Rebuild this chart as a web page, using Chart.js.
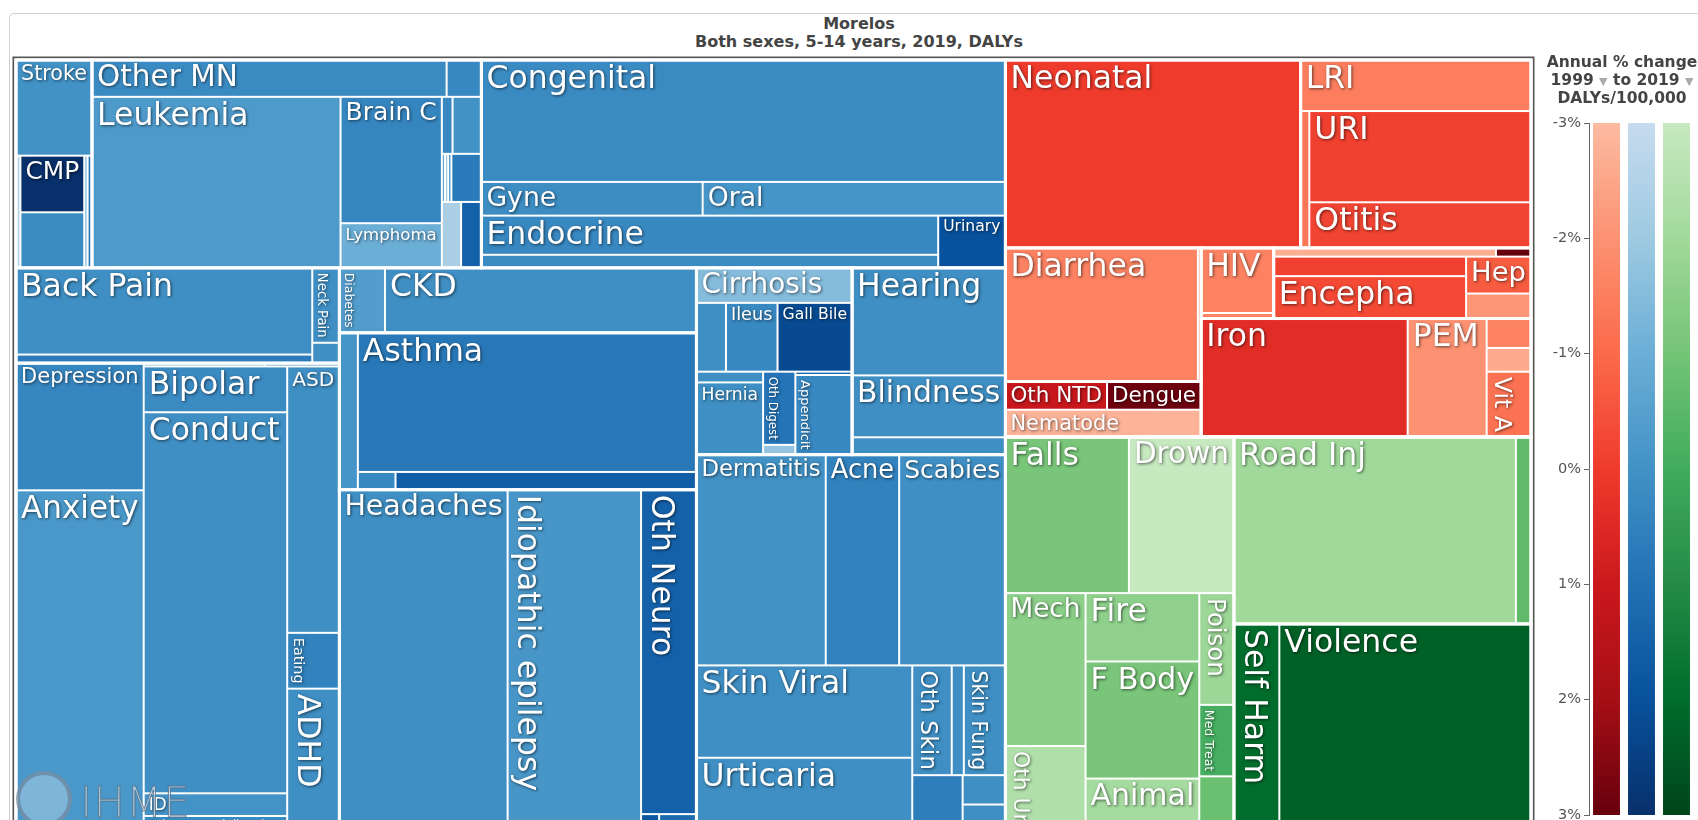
<!DOCTYPE html>
<html>
<head>
<meta charset="utf-8">
<title>Morelos, Both sexes, 5-14 years, 2019, DALYs</title>
<script src="https://cdn.jsdelivr.net/npm/chart.js@4.4.1/dist/chart.umd.min.js"></script>
<style>
  html, body { margin: 0; padding: 0; background: #fff; width: 1698px; height: 820px; overflow: hidden; }
  .card { position: absolute; left: 9px; top: 13px; width: 1800px; height: 1000px; border: 1px solid #d0d0d0; border-radius: 5px; }
  .title { position: absolute; left: 0; top: 15px; width: 1718px; text-align: center; font: bold 16px "DejaVu Sans", sans-serif; color: #444; line-height: 17.5px; }
  #treemap { position: absolute; left: 0; top: 0; }
  #colorbar { position: absolute; left: 1539px; top: 0; }
  .legend-head { position: absolute; left: 1522px; top: 54px; width: 200px; text-align: center; font: bold 15.5px "DejaVu Sans", sans-serif; color: #444; line-height: 17.5px; white-space: nowrap; }
  .caret { color: #aaa; font-size: 11px; }
  .logo { position: absolute; left: 16px; top: 771px; pointer-events: none; }
  .logo .ring { position: absolute; left: 0; top: 0; width: 48px; height: 48px; border-radius: 50%; border: 4px solid rgba(100,120,140,0.6); background: rgba(225,235,245,0.35); }
  .logo span { position: absolute; left: 64px; top: 11px; font: 200 42px "DejaVu Sans", sans-serif; line-height: 42px; color: rgba(215,228,240,0.7); -webkit-text-stroke: 1px rgba(80,100,120,0.7); letter-spacing: 1px; }
</style>
</head>
<body>
<div class="card"></div>
<div class="title">Morelos<br>Both sexes, 5-14 years, 2019, DALYs</div>
<canvas id="treemap" width="1540" height="880"></canvas>
<div class="legend-head">Annual % change<br>1999 <span class="caret">&#9660;</span> to 2019 <span class="caret">&#9660;</span><br>DALYs/100,000</div>
<canvas id="colorbar" width="159" height="840"></canvas>
<div class="logo"><div class="ring"></div><span>IHME</span></div>

<script>
const FONT = '"DejaVu Sans", Verdana, sans-serif';

// DALYs per 100,000 and annual % change 1999-2019, by cause

// non-communicable (blue)
const cardioNames  = ['Stroke', 'Rheumatic HD', 'CMP', 'Oth Cardio', 'Endocarditis', 'IHD'];
const cardioDalys  = [619, 42, 308, 302, 32, 42];
const cardioChange = [0.0, -2.5, 3.0, 0.2, -1.5, 0.8];

const neoNames  = ['Other MN', 'Oth Neopl', 'Leukemia', 'Brain C', 'Lymphoma', 'Hodgkin', 'Kidney cancer',
                   'Liver cancer', 'Thyroid cancer', 'Testicular cancer', 'Colorectal cancer', 'Ovarian cancer', 'Nasopharynx cancer'];
const neoDalys  = [1112, 109, 3619, 1090, 385, 52, 140, 13, 13, 13, 123, 108, 114];
const neoChange = [0.2, 0.3, -0.3, 0.4, -1.0, 0.3, 0.0, -0.8, -2.0, 0.3, 0.7, -2.3, 1.5];

const otherNcdNames  = ['Congenital', 'Gyne', 'Oral', 'Endocrine', 'Hemoglobinopathies', 'Urinary'];
const otherNcdDalys  = [5440, 635, 869, 1523, 508, 299];
const otherNcdChange = [0.2, 0.15, -0.1, 0.3, 0.2, 2.0];

const mskNames  = ['Back Pain', 'Other musculoskeletal', 'Neck Pain', 'Rheumatoid arthritis'];
const mskDalys  = [2187, 216, 173, 47];
const mskChange = [0.1, 0.7, 0.1, 0.1];

const mentalNames  = ['Depression', 'Anxiety', 'Schizophrenia', 'Dysthymia', 'Bipolar', 'Conduct', 'ID',
                      'Other mental disorders', 'ASD', 'Eating', 'ADHD'];
const mentalDalys  = [1383, 4030, 34, 21, 560, 4655, 277, 550, 1184, 248, 766];
const mentalChange = [0.35, -0.2, -1.0, 0.3, 0.2, 0.1, -0.05, 0.2, 0.1, 0.5, 0.1];

const diabKidNames  = ['Diabetes', 'CKD'];
const diabKidDalys  = [252, 1722];
const diabKidChange = [-0.4, 0.1];

const respNames  = ['Other chronic respiratory', 'Asthma', 'Interstitial lung', 'Chronic obstructive pulmonary'];
const respDalys  = [247, 4011, 57, 456];
const respChange = [-0.1, 0.8, 0.3, 1.6];

const neuroNames  = ['Headaches', 'Idiopathic epilepsy', 'Oth Neuro', 'Multiple sclerosis', 'Motor neuron disease'];
const neuroDalys  = [5317, 4219, 1529, 72, 149];
const neuroChange = [0.1, -0.15, 1.5, 1.8, 1.2];

const digestNames  = ['Cirrhosis', 'Inflammatory bowel', 'Ileus', 'Gall Bile', 'Upper digestive', 'Hernia',
                      'Oth Digest', 'Pancreatitis', 'Vascular intestinal', 'Appendicit'];
const digestDalys  = [464, 173, 302, 437, 61, 410, 201, 27, 16, 385];
const digestChange = [-1.5, 0.1, 0.3, 2.2, 0.1, 0.1, 0.9, -1.8, 1.5, 0.3];

const senseNames  = ['Hearing', 'Blindness', 'Other sense organ'];
const senseDalys  = [1404, 808, 227];
const senseChange = [0.1, 0.1, 0.1];

const skinNames  = ['Dermatitis', 'Acne', 'Scabies', 'Skin Viral', 'Urticaria', 'Oth Skin', 'Pruritus', 'Skin Fung',
                    'Bacterial skin disease', 'Psoriasis', 'Alopecia areata'];
const skinDalys  = [2320, 1317, 1907, 1697, 1897, 369, 113, 389, 368, 107, 206];
const skinChange = [0.0, 0.5, 0.1, 0.1, 0.1, 0.1, 0.1, 0.1, 0.6, 0.1, 0.1];

// communicable, maternal, neonatal, nutritional (red)
const neonatalNames  = ['Neonatal'];
const neonatalDalys  = [4723];
const neonatalChange = [0.0];

const respInfNames  = ['LRI', 'Tuberculosis', 'URI', 'Otitis'];
const respInfDalys  = [1001, 101, 1722, 861];
const respInfChange = [-1.5, -1.3, -0.1, -0.2];

const entericNames  = ['Diarrhea', 'Typhoid'];
const entericDalys  = [2189, 37];
const entericChange = [-1.6, -2.0];

const ntdNames  = ['Oth NTD', 'Dengue', 'Nematode'];
const ntdDalys  = [244, 226, 453];
const ntdChange = [1.1, 2.9, -2.8];

const hivNames  = ['HIV', 'STI'];
const hivDalys  = [402, 34];
const hivChange = [-1.6, -1.6];

const otherInfNames  = ['Meningitis', 'Whooping cough', 'Other unspecified infectious diseases', 'Encepha', 'Hep', 'Varicella & herpes zoster'];
const otherInfDalys  = [165, 26, 320, 694, 204, 138];
const otherInfChange = [-2.7, 3.0, -0.1, -0.3, -0.7, -2.1];

const nutritionNames  = ['Iron', 'PEM', 'Iodine deficiency', 'Other nutritional', 'Vit A'];
const nutritionDalys  = [2082, 796, 111, 90, 246];
const nutritionChange = [0.4, -2.0, -1.6, -2.6, -1.2];

// injuries (green)
const unintNames  = ['Falls', 'Drown', 'Mech', 'Oth Unint', 'Fire', 'F Body', 'Animal', 'Poison', 'Med Treat', 'Environmental heat & cold'];
const unintDalys  = [1642, 1397, 1043, 784, 662, 1134, 798, 330, 211, 250];
const unintChange = [-1.1, -3.0, -1.5, -2.4, -1.6, -1.1, -2.1, -1.9, -0.1, -0.8];

const transportNames  = ['Road Inj', 'Other transport'];
const transportDalys  = [4489, 241];
const transportChange = [-2.0, -0.6];

const intentNames  = ['Self Harm', 'Violence'];
const intentDalys  = [916, 5079];
const intentChange = [2.0, 2.3];

// colour bar
const legendGroups = ['Communicable', 'Non-communicable', 'Injuries'];
const legendRange = [-3, 3];

// colour scales, -3% .. +3% in 1% steps
const palettes = {
  red:   ['#fcbba1', '#fc9272', '#fb6a4a', '#ef3b2c', '#cb181d', '#a50f15', '#67000d'],
  blue:  ['#c6dbef', '#9ecae1', '#6baed6', '#4292c6', '#2171b5', '#08519c', '#08306b'],
  green: ['#c7e9c0', '#a1d99b', '#74c476', '#41ab5d', '#238b45', '#006d2c', '#00441b']
};

// lookup table name -> values
const causeInfo = {};
function addGroup(names, dalys, change, palette) {
  names.forEach((n, i) => { causeInfo[n] = { dalys: dalys[i], change: change[i], palette }; });
}
addGroup(cardioNames, cardioDalys, cardioChange, 'blue');
addGroup(neoNames, neoDalys, neoChange, 'blue');
addGroup(otherNcdNames, otherNcdDalys, otherNcdChange, 'blue');
addGroup(mskNames, mskDalys, mskChange, 'blue');
addGroup(mentalNames, mentalDalys, mentalChange, 'blue');
addGroup(diabKidNames, diabKidDalys, diabKidChange, 'blue');
addGroup(respNames, respDalys, respChange, 'blue');
addGroup(neuroNames, neuroDalys, neuroChange, 'blue');
addGroup(digestNames, digestDalys, digestChange, 'blue');
addGroup(senseNames, senseDalys, senseChange, 'blue');
addGroup(skinNames, skinDalys, skinChange, 'blue');
addGroup(neonatalNames, neonatalDalys, neonatalChange, 'red');
addGroup(respInfNames, respInfDalys, respInfChange, 'red');
addGroup(entericNames, entericDalys, entericChange, 'red');
addGroup(ntdNames, ntdDalys, ntdChange, 'red');
addGroup(hivNames, hivDalys, hivChange, 'red');
addGroup(otherInfNames, otherInfDalys, otherInfChange, 'red');
addGroup(nutritionNames, nutritionDalys, nutritionChange, 'red');
addGroup(unintNames, unintDalys, unintChange, 'green');
addGroup(transportNames, transportDalys, transportChange, 'green');
addGroup(intentNames, intentDalys, intentChange, 'green');

// nesting of the treemap: H = side by side, V = stacked; sizes come from the DALYs
const H = (...kids) => ({ dir: 'h', kids });
const V = (...kids) => ({ dir: 'v', kids });
const grp = node => Object.assign(node, { outline: true });

const blueTree = grp(V(
  H(
    grp(V('Stroke', H('Rheumatic HD', V('CMP', 'Oth Cardio'), 'Endocarditis', 'IHD'))),
    grp(V(H('Other MN', 'Oth Neopl'),
          H('Leukemia', V('Brain C', 'Lymphoma'),
            V(H('Hodgkin', 'Kidney cancer'),
              H('Liver cancer', 'Thyroid cancer', 'Testicular cancer', 'Colorectal cancer'),
              H('Ovarian cancer', 'Nasopharynx cancer'))))),
    grp(V('Congenital', H('Gyne', 'Oral'), H(V('Endocrine', 'Hemoglobinopathies'), 'Urinary')))
  ),
  H(
    V(grp(H(V('Back Pain', 'Other musculoskeletal'), V('Neck Pain', 'Rheumatoid arthritis'))),
      grp(H(V('Depression', 'Anxiety'),
            V(H('Schizophrenia', 'Dysthymia'),
              H(V('Bipolar', 'Conduct', 'ID', 'Other mental disorders'), V('ASD', 'Eating', 'ADHD')))))),
    V(grp(H('Diabetes', 'CKD')),
      grp(H('Other chronic respiratory', V('Asthma', H('Interstitial lung', 'Chronic obstructive pulmonary')))),
      grp(H('Headaches', 'Idiopathic epilepsy', V('Oth Neuro', H('Multiple sclerosis', 'Motor neuron disease'))))),
    V(H(grp(V('Cirrhosis', H('Inflammatory bowel', 'Ileus', 'Gall Bile'),
              H(V('Upper digestive', 'Hernia'), V('Oth Digest', 'Pancreatitis'), V('Vascular intestinal', 'Appendicit')))),
        grp(V('Hearing', 'Blindness', 'Other sense organ'))),
      grp(V(H('Dermatitis', 'Acne', 'Scabies'),
            H(V('Skin Viral', 'Urticaria'),
              V(H('Oth Skin', 'Pruritus', 'Skin Fung'), H('Bacterial skin disease', V('Psoriasis', 'Alopecia areata')))))))
  )
));

const redTree = grp(V(
  H(grp(V('Neonatal')), grp(V('LRI', H('Tuberculosis', V('URI', 'Otitis'))))),
  H(V(grp(H('Diarrhea', 'Typhoid')), grp(V(H('Oth NTD', 'Dengue'), 'Nematode'))),
    V(H(grp(V('HIV', 'STI')),
        grp(V(H('Meningitis', 'Whooping cough'),
              H(V('Other unspecified infectious diseases', 'Encepha'), V('Hep', 'Varicella & herpes zoster'))))),
      grp(H('Iron', 'PEM', V('Iodine deficiency', 'Other nutritional', 'Vit A')))))
));

const greenTree = grp(H(
  grp(V(H('Falls', 'Drown'),
        H(V('Mech', 'Oth Unint'), V('Fire', 'F Body', 'Animal'), V('Poison', 'Med Treat', 'Environmental heat & cold')))),
  V(grp(H('Road Inj', 'Other transport')), grp(H('Self Harm', 'Violence')))
));

const treeRoot = H(blueTree, V(redTree, greenTree));

function valueOf(node) {
  if (typeof node === 'string') return causeInfo[node].dalys;
  if (node.value == null) node.value = node.kids.reduce((s, k) => s + valueOf(k), 0);
  return node.value;
}

// lay out in unit square, scales map it to pixels
const cells = [];
const outlines = [];
function place(node, x0, y0, x1, y1) {
  if (typeof node === 'string') { cells.push({ name: node, x0, y0, x1, y1 }); return; }
  if (node.outline) outlines.push({ x0, y0, x1, y1 });
  const total = valueOf(node);
  const horiz = node.dir === 'h';
  const span = horiz ? x1 - x0 : y1 - y0;
  let pos = horiz ? x0 : y0;
  node.kids.forEach(k => {
    const step = span * valueOf(k) / total;
    if (horiz) place(k, pos, y0, pos + step, y1);
    else place(k, x0, pos, x1, pos + step);
    pos += step;
  });
}
place(treeRoot, 0, 0, 1, 1);

function hexToRgb(h) {
  return [1, 3, 5].map(i => parseInt(h.slice(i, i + 2), 16));
}
function colorFor(palette, pct) {
  const stops = palettes[palette];
  const t = Math.max(0, Math.min(6, pct + 3));
  const i = Math.min(5, Math.floor(t));
  const f = t - i;
  const a = hexToRgb(stops[i]), b = hexToRgb(stops[i + 1]);
  const c = a.map((v, k) => Math.round(v + (b[k] - v) * f));
  return `rgb(${c[0]},${c[1]},${c[2]})`;
}

const MAX_LABEL = 31.5;
function labelFit(ctx, text, w, h) {
  ctx.font = `100px ${FONT}`;
  const tw = ctx.measureText(text).width / 100;
  const hs = h < 22 ? 0 : Math.min((w - 10) / tw, (h - 4) * 0.9, MAX_LABEL);
  const vs = w < 20 ? 0 : Math.min((h - 10) / tw, (w - 6) * 0.85, MAX_LABEL);
  let fit = { size: hs, rotate: false };
  if (!(hs >= 16 && hs * 1.8 >= vs) && vs > hs) fit = { size: vs, rotate: true };
  return fit.size >= 11 ? fit : null;
}

const treemapCells = {
  id: 'treemapCells',
  beforeDatasetsDraw(chart) {
    const { ctx, chartArea, scales: { x, y } } = chart;
    const px = c => ({
      left: x.getPixelForValue(c.x0), right: x.getPixelForValue(c.x1),
      top: y.getPixelForValue(c.y0), bottom: y.getPixelForValue(c.y1)
    });
    ctx.save();

    // frame
    ctx.strokeStyle = '#555';
    ctx.lineWidth = 2;
    ctx.strokeRect(chartArea.left - 2.5, chartArea.top - 2.5, chartArea.width + 5, chartArea.height + 5);

    cells.forEach(c => {
      const r = px(c);
      const info = causeInfo[c.name];
      ctx.fillStyle = colorFor(info.palette, info.change);
      ctx.fillRect(r.left + 1, r.top + 1, r.right - r.left - 2, r.bottom - r.top - 2);
    });

    ctx.strokeStyle = '#fff';
    ctx.lineWidth = 3;
    outlines.forEach(o => {
      const r = px(o);
      ctx.strokeRect(r.left, r.top, r.right - r.left, r.bottom - r.top);
    });

    // labels
    ctx.fillStyle = '#fff';
    cells.forEach(c => {
      const r = px(c);
      const w = r.right - r.left, h = r.bottom - r.top;
      const fit = labelFit(ctx, c.name, w, h);
      if (!fit) return;
      ctx.font = `${fit.size}px ${FONT}`;
      ctx.shadowColor = 'rgba(0,0,0,0.6)';
      ctx.shadowBlur = 3;
      ctx.shadowOffsetX = 1;
      ctx.shadowOffsetY = 1;
      if (!fit.rotate) {
        ctx.textBaseline = 'top';
        ctx.fillText(c.name, r.left + 5, r.top + 4);
      } else {
        ctx.save();
        ctx.translate(r.left + 3, r.top + 5);
        ctx.rotate(Math.PI / 2);
        ctx.textBaseline = 'bottom';
        ctx.fillText(c.name, 0, 0);
        ctx.restore();
      }
    });
    ctx.restore();
  }
};

new Chart(document.getElementById('treemap').getContext('2d'), {
  type: 'scatter',
  data: {
    datasets: [{
      label: 'DALYs',
      data: cells.map(c => ({ x: (c.x0 + c.x1) / 2, y: (c.y0 + c.y1) / 2, name: c.name })),
      pointRadius: 0,
      pointHoverRadius: 0,
      pointHitRadius: 12
    }]
  },
  options: {
    responsive: false,
    animation: false,
    layout: { padding: { left: 16, right: 9, top: 60, bottom: 19 } },
    scales: {
      x: { type: 'linear', min: 0, max: 1, display: false },
      y: { type: 'linear', min: 0, max: 1, reverse: true, display: false }
    },
    plugins: {
      legend: { display: false },
      tooltip: {
        callbacks: {
          label: item => {
            const n = item.raw.name, info = causeInfo[n];
            return `${n}: ${info.dalys} DALYs/100,000, ${info.change}%/yr`;
          }
        }
      }
    }
  },
  plugins: [treemapCells]
});

// colour bar legend
function barGradient(context) {
  const chart = context.chart;
  const { ctx, chartArea } = chart;
  if (!chartArea) return null;
  const yScale = chart.scales.y;
  const key = ['red', 'blue', 'green'][context.dataIndex];
  const g = ctx.createLinearGradient(0, yScale.getPixelForValue(legendRange[0]), 0, yScale.getPixelForValue(legendRange[1]));
  palettes[key].forEach((c, i) => g.addColorStop(i / 6, c));
  return g;
}

new Chart(document.getElementById('colorbar').getContext('2d'), {
  type: 'bar',
  data: {
    labels: legendGroups,
    datasets: [{
      data: legendGroups.map(() => legendRange.slice()),
      backgroundColor: barGradient,
      borderWidth: 0,
      barPercentage: 0.77,
      categoryPercentage: 1
    }]
  },
  options: {
    responsive: false,
    animation: false,
    layout: { padding: { left: 0, right: 4, top: 123, bottom: 25 } },
    scales: {
      x: { display: false },
      y: {
        min: legendRange[0],
        max: legendRange[1],
        reverse: true,
        afterFit: scale => { scale.width = 50; },
        ticks: {
          stepSize: 1,
          padding: 3,
          color: '#555',
          font: { family: FONT, size: 14.5 },
          callback: v => v + '%'
        },
        grid: { drawOnChartArea: false, drawTicks: true, tickLength: 5, color: '#666' },
        border: { display: true, color: '#666' }
      }
    },
    plugins: { legend: { display: false }, tooltip: { enabled: false } }
  }
});
</script>
</body>
</html>
